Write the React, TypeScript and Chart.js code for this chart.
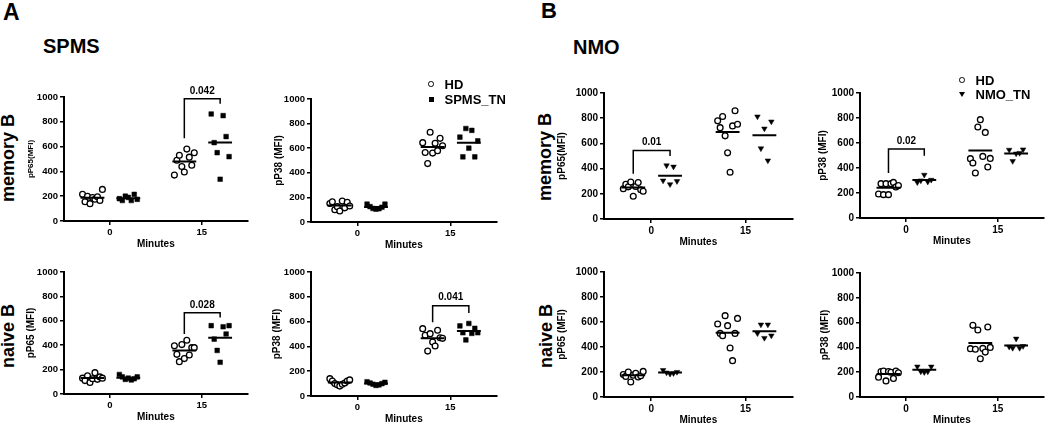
import { useEffect, useRef } from 'react';
import { Chart, registerables } from 'chart.js';

Chart.register(...registerables);

const FONT = '"Liberation Sans", Arial, Helvetica, sans-serif';

// ---- shared labels ----
const timeLabels = ['0', '15'];
const yTickValues = [0, 200, 400, 600, 800, 1000];
const xAxisTitle = 'Minutes';

// ---- A: SPMS ----
const spmsMemP65Hd0 = [215, 155, 200, 140, 190, 175, 195, 165, 255];
const spmsMemP65Tn0 = [180, 165, 200, 190, 165, 215, 175];
const spmsMemP65Hd15 = [370, 490, 530, 440, 395, 580, 515, 450, 550];
const spmsMemP65Tn15 = [863, 632, 551, 337, 850, 681, 519];

const spmsMemP38Hd0 = [150, 165, 100, 125, 90, 170, 115, 160, 130];
const spmsMemP38Tn0 = [145, 125, 110, 105, 108, 120, 145];
const spmsMemP38Hd15 = [645, 565, 475, 730, 560, 640, 580, 680, 620];
const spmsMemP38Tn15 = [690, 530, 760, 600, 745, 530, 660];

const spmsNaiveP65Hd0 = [130, 110, 150, 95, 125, 175, 120, 140, 130];
const spmsNaiveP65Tn0 = [160, 140, 120, 130, 115, 125, 140];
const spmsNaiveP65Hd15 = [395, 325, 265, 405, 290, 440, 320, 380, 380];
const spmsNaiveP65Tn15 = [560, 450, 357, 260, 551, 492, 560];

const spmsNaiveP38Hd0 = [140, 120, 100, 90, 80, 95, 105, 120, 130];
const spmsNaiveP38Tn0 = [115, 105, 95, 85, 90, 100, 110];
const spmsNaiveP38Hd15 = [543, 489, 362, 503, 435, 403, 530, 470, 465];
const spmsNaiveP38Tn15 = [565, 510, 452, 585, 505, 546, 510];

// ---- B: NMO ----
const nmoMemP65Hd0 = [240, 275, 255, 293, 180, 258, 290, 232, 220];
const nmoMemP65Tn0 = [305, 425, 275, 415, 300];
const nmoMemP65Hd15 = [779, 725, 813, 660, 525, 371, 739, 859, 752];
const nmoMemP65Tn15 = [813, 560, 717, 464, 773];

const nmoMemP38Hd0 = [192, 275, 187, 275, 187, 275, 285, 248, 260];
const nmoMemP38Tn0 = [285, 300, 345, 290, 305];
const nmoMemP38Hd15 = [475, 440, 360, 728, 787, 493, 685, 408, 477];
const nmoMemP38Tn15 = [545, 455, 515, 520, 548];

const nmoNaiveP65Hd0 = [180, 165, 200, 120, 175, 190, 160, 170, 205];
const nmoNaiveP65Tn0 = [215, 195, 185, 190, 200];
const nmoNaiveP65Hd15 = [584, 509, 491, 651, 571, 392, 291, 509, 629];
const nmoNaiveP65Tn15 = [509, 579, 472, 579, 491];

const nmoNaiveP38Hd0 = [160, 205, 210, 130, 205, 200, 150, 210, 195];
const nmoNaiveP38Tn0 = [245, 205, 200, 205, 245];
const nmoNaiveP38Hd15 = [390, 578, 385, 540, 308, 392, 362, 565, 400];
const nmoNaiveP38Tn15 = [405, 395, 470, 395, 410];

// ---- significance brackets: [time index, top, HD leg end, TN leg end] + p label ----
const spmsMemP65Bracket = [1, 985, 668, 945];
const spmsMemP65P = '0.042';
const spmsNaiveP65Bracket = [1, 665, 492, 627];
const spmsNaiveP65P = '0.028';
const spmsNaiveP38Bracket = [1, 728, 595, 670];
const spmsNaiveP38P = '0.041';
const nmoMemP65Bracket = [0, 543, 360, 500];
const nmoMemP65P = '0.01';
const nmoMemP38Bracket = [0, 552, 360, 499];
const nmoMemP38P = '0.02';

type PanelCfg = {
  hd0: number[]; tn0: number[]; hd15: number[]; tn15: number[];
  tnStyle: 'rect' | 'triangle';
  yTitle: string; yTitleSize: number; tickSize: number;
  bracket?: number[]; pLabel?: string;
  axisX: number; xEnd: number; yTop: number; yBottom: number; yw: number;
};

const PAD_TOP = 24;
const PAD_R = 4;
const XH = 30;
const HD_OFF = -0.95;
const TN_OFF = 1.0;
const timeCenters = [2.5, 7.5];

const mean = (a: number[]) => a.reduce((s, v) => s + v, 0) / a.length;

function Panel({ cfg }: { cfg: PanelCfg }) {
  const ref = useRef<HTMLCanvasElement>(null);
  const left = cfg.axisX - cfg.yw;
  const top = cfg.yTop - PAD_TOP;
  const width = cfg.xEnd - cfg.axisX + cfg.yw + PAD_R;
  const height = cfg.yBottom - cfg.yTop + PAD_TOP + XH;

  useEffect(() => {
    if (!ref.current) return;
    const pxPerUnit = (cfg.xEnd - cfg.axisX) / 10;
    const spread = (vals: number[], center: number, halfPx: number) =>
      vals.map((v, i) => ({
        x: center + (vals.length > 1 ? -halfPx + (2 * halfPx * i) / (vals.length - 1) : 0) / pxPerUnit,
        y: v,
      }));
    const hdC = timeCenters.map((c) => c + HD_OFF);
    const tnC = timeCenters.map((c) => c + TN_OFF);
    const tnHalf = cfg.tn0.length > 5 ? 9 : 7;
    const hdPts = [...spread(cfg.hd0, hdC[0], 10), ...spread(cfg.hd15, hdC[1], 10)];
    const tnPts = [...spread(cfg.tn0, tnC[0], tnHalf), ...spread(cfg.tn15, tnC[1], tnHalf)];
    const lineHalf = 12 / pxPerUnit;
    const groups: [number[], number][] = [
      [cfg.hd0, hdC[0]], [cfg.tn0, tnC[0]], [cfg.hd15, hdC[1]], [cfg.tn15, tnC[1]],
    ];
    const meanSets = groups.map(([vals, c]) => ({
      data: [{ x: c - lineHalf, y: mean(vals) }, { x: c + lineHalf, y: mean(vals) }],
      showLine: true,
      borderColor: '#000',
      borderWidth: 2,
      pointRadius: 0,
      fill: false,
    }));

    const bracketPlugin = {
      id: 'bracket',
      afterDatasetsDraw(chart: any) {
        if (!cfg.bracket) return;
        const [ti, topV, lEnd, rEnd] = cfg.bracket;
        const xs = chart.scales.x;
        const ys = chart.scales.y;
        const ctx = chart.ctx;
        const xl = xs.getPixelForValue(hdC[ti]);
        const xr = xs.getPixelForValue(tnC[ti]);
        const yt = ys.getPixelForValue(topV);
        ctx.save();
        ctx.strokeStyle = '#000';
        ctx.lineWidth = 1.5;
        ctx.beginPath();
        ctx.moveTo(xl, ys.getPixelForValue(lEnd));
        ctx.lineTo(xl, yt);
        ctx.lineTo(xr, yt);
        ctx.lineTo(xr, ys.getPixelForValue(rEnd));
        ctx.stroke();
        ctx.fillStyle = '#000';
        ctx.font = `bold 10px ${FONT}`;
        ctx.textAlign = 'center';
        ctx.textBaseline = 'bottom';
        ctx.fillText(cfg.pLabel || '', (xl + xr) / 2, yt - 3);
        ctx.restore();
      },
    };

    const chart = new Chart(ref.current, {
      type: 'scatter',
      data: {
        datasets: [
          ...meanSets,
          {
            data: tnPts,
            pointStyle: cfg.tnStyle,
            pointRotation: cfg.tnStyle === 'triangle' ? 180 : 0,
            pointRadius: cfg.tnStyle === 'triangle' ? 3.2 : 3.3,
            backgroundColor: '#000',
            borderColor: '#000',
            borderWidth: 0.5,
          },
          {
            data: hdPts,
            pointStyle: 'circle',
            pointRadius: 2.9,
            backgroundColor: '#fff',
            borderColor: '#000',
            borderWidth: 1.3,
          },
        ] as any,
      },
      options: {
        animation: false,
        responsive: false,
        devicePixelRatio: 1,
        events: [],
        layout: { padding: { top: PAD_TOP, right: PAD_R, left: 0, bottom: 0 } },
        plugins: { legend: { display: false }, tooltip: { enabled: false } },
        scales: {
          x: {
            type: 'linear',
            min: 0,
            max: 10,
            afterBuildTicks: (s: any) => {
              s.ticks = timeCenters.map((v) => ({ value: v }));
            },
            afterFit: (s: any) => {
              s.height = XH;
            },
            ticks: {
              callback: (_v: any, i: number) => timeLabels[i],
              font: { family: FONT, size: cfg.tickSize, weight: 'bold' },
              color: '#000',
              padding: 2,
              maxRotation: 0,
              autoSkip: false,
            },
            grid: { display: true, drawOnChartArea: false, drawTicks: true, tickLength: 4, color: '#000', lineWidth: 1.5 },
            border: { display: true, color: '#000', width: 2 },
            title: {
              display: true,
              text: xAxisTitle,
              color: '#000',
              font: { family: FONT, size: 10, weight: 'bold' },
              padding: { top: 0, bottom: 1 },
            },
          },
          y: {
            type: 'linear',
            min: 0,
            max: 1000,
            afterBuildTicks: (s: any) => {
              s.ticks = yTickValues.map((v) => ({ value: v }));
            },
            afterFit: (s: any) => {
              s.width = cfg.yw;
            },
            ticks: {
              callback: (v: any) => String(v),
              font: { family: FONT, size: cfg.tickSize, weight: 'bold' },
              color: '#000',
              padding: 2,
            },
            grid: { display: true, drawOnChartArea: false, drawTicks: true, tickLength: 4, color: '#000', lineWidth: 1.5 },
            border: { display: true, color: '#000', width: 2 },
            title: {
              display: true,
              text: cfg.yTitle,
              color: '#000',
              font: { family: FONT, size: cfg.yTitleSize, weight: 'bold' },
              padding: { top: 0, bottom: 0 },
            },
          },
        },
      } as any,
      plugins: [bracketPlugin],
    });
    return () => chart.destroy();
  }, []);

  return (
    <canvas
      ref={ref}
      width={width}
      height={height}
      style={{ position: 'absolute', left, top, width, height }}
    />
  );
}

const panels: PanelCfg[] = [
  {
    hd0: spmsMemP65Hd0, tn0: spmsMemP65Tn0, hd15: spmsMemP65Hd15, tn15: spmsMemP65Tn15,
    tnStyle: 'rect', yTitle: 'pP65(MFI)', yTitleSize: 8, tickSize: 9.5,
    bracket: spmsMemP65Bracket, pLabel: spmsMemP65P,
    axisX: 64, xEnd: 249, yTop: 97, yBottom: 221, yw: 38,
  },
  {
    hd0: spmsMemP38Hd0, tn0: spmsMemP38Tn0, hd15: spmsMemP38Hd15, tn15: spmsMemP38Tn15,
    tnStyle: 'rect', yTitle: 'pP38 (MFI)', yTitleSize: 10, tickSize: 9.5,
    axisX: 311, xEnd: 498, yTop: 99, yBottom: 222, yw: 38,
  },
  {
    hd0: spmsNaiveP65Hd0, tn0: spmsNaiveP65Tn0, hd15: spmsNaiveP65Hd15, tn15: spmsNaiveP65Tn15,
    tnStyle: 'rect', yTitle: 'pP65 (MFI)', yTitleSize: 10, tickSize: 9.5,
    bracket: spmsNaiveP65Bracket, pLabel: spmsNaiveP65P,
    axisX: 64, xEnd: 249, yTop: 272, yBottom: 394, yw: 39,
  },
  {
    hd0: spmsNaiveP38Hd0, tn0: spmsNaiveP38Tn0, hd15: spmsNaiveP38Hd15, tn15: spmsNaiveP38Tn15,
    tnStyle: 'rect', yTitle: 'pP38 (MFI)', yTitleSize: 10, tickSize: 9.5,
    bracket: spmsNaiveP38Bracket, pLabel: spmsNaiveP38P,
    axisX: 311, xEnd: 498, yTop: 272, yBottom: 396, yw: 40,
  },
  {
    hd0: nmoMemP65Hd0, tn0: nmoMemP65Tn0, hd15: nmoMemP65Hd15, tn15: nmoMemP65Tn15,
    tnStyle: 'triangle', yTitle: 'pP65(MFI)', yTitleSize: 10, tickSize: 10,
    bracket: nmoMemP65Bracket, pLabel: nmoMemP65P,
    axisX: 604, xEnd: 794, yTop: 93, yBottom: 219, yw: 48,
  },
  {
    hd0: nmoMemP38Hd0, tn0: nmoMemP38Tn0, hd15: nmoMemP38Hd15, tn15: nmoMemP38Tn15,
    tnStyle: 'triangle', yTitle: 'pP38 (MFI)', yTitleSize: 10, tickSize: 10,
    bracket: nmoMemP38Bracket, pLabel: nmoMemP38P,
    axisX: 860, xEnd: 1045, yTop: 93, yBottom: 218, yw: 43,
  },
  {
    hd0: nmoNaiveP65Hd0, tn0: nmoNaiveP65Tn0, hd15: nmoNaiveP65Hd15, tn15: nmoNaiveP65Tn15,
    tnStyle: 'triangle', yTitle: 'pP65 (MFI)', yTitleSize: 10, tickSize: 10,
    axisX: 604, xEnd: 794, yTop: 272, yBottom: 397, yw: 48,
  },
  {
    hd0: nmoNaiveP38Hd0, tn0: nmoNaiveP38Tn0, hd15: nmoNaiveP38Hd15, tn15: nmoNaiveP38Tn15,
    tnStyle: 'triangle', yTitle: 'pP38 (MFI)', yTitleSize: 10, tickSize: 10,
    axisX: 860, xEnd: 1045, yTop: 273, yBottom: 397, yw: 41,
  },
];

const bold = { fontWeight: 700, fontFamily: FONT, color: '#000', whiteSpace: 'nowrap' as const };

function Text({ x, y, size, children }: { x: number; y: number; size: number; children: any }) {
  return (
    <div style={{ ...bold, position: 'absolute', left: x, top: y, fontSize: size, lineHeight: `${size}px` }}>
      {children}
    </div>
  );
}

function RowLabel({ cx, cy, text }: { cx: number; cy: number; text: string }) {
  return (
    <div
      style={{
        ...bold,
        position: 'absolute',
        left: cx,
        top: cy,
        fontSize: 18,
        lineHeight: '18px',
        transform: 'translate(-50%, -50%) rotate(-90deg)',
      }}
    >
      {text}
    </div>
  );
}

function LegendItem({ x, y, marker, label }: { x: number; y: number; marker: string; label: string }) {
  let sym: any;
  if (marker === 'circle') {
    sym = { width: 3.5, height: 3.5, border: '1.2px solid #000', borderRadius: '50%', left: x - 3, top: y - 3 };
  } else if (marker === 'rect') {
    sym = { width: 5, height: 5, background: '#000', left: x - 2.5, top: y - 2.5 };
  } else {
    sym = {
      width: 0, height: 0, borderLeft: '3px solid transparent', borderRight: '3px solid transparent',
      borderTop: '5px solid #000', left: x - 3, top: y - 2.5,
    };
  }
  return (
    <>
      <div style={{ position: 'absolute', boxSizing: 'content-box', ...sym }} />
      <Text x={x + 13.5} y={y - 6.5} size={13}>{label}</Text>
    </>
  );
}

export default function App() {
  return (
    <div
      style={{
        position: 'fixed', left: 0, top: 0, width: 1050, height: 424,
        background: '#fff', overflow: 'hidden', fontFamily: FONT,
      }}
    >
      <Text x={3} y={1} size={23}>A</Text>
      <Text x={541} y={0} size={22}>B</Text>
      <Text x={43} y={36} size={20}>SPMS</Text>
      <Text x={573} y={37} size={20}>NMO</Text>
      <RowLabel cx={8} cy={157.5} text="memory B" />
      <RowLabel cx={8} cy={336} text="naive B" />
      <RowLabel cx={545} cy={157} text="memory B" />
      <RowLabel cx={545.5} cy={336} text="naive B" />
      {panels.map((p, i) => (
        <Panel key={i} cfg={p} />
      ))}
      <LegendItem x={431} y={84} marker="circle" label="HD" />
      <LegendItem x={431} y={99} marker="rect" label="SPMS_TN" />
      <LegendItem x={962} y={80} marker="circle" label="HD" />
      <LegendItem x={962} y={94} marker="triangle" label="NMO_TN" />
    </div>
  );
}
